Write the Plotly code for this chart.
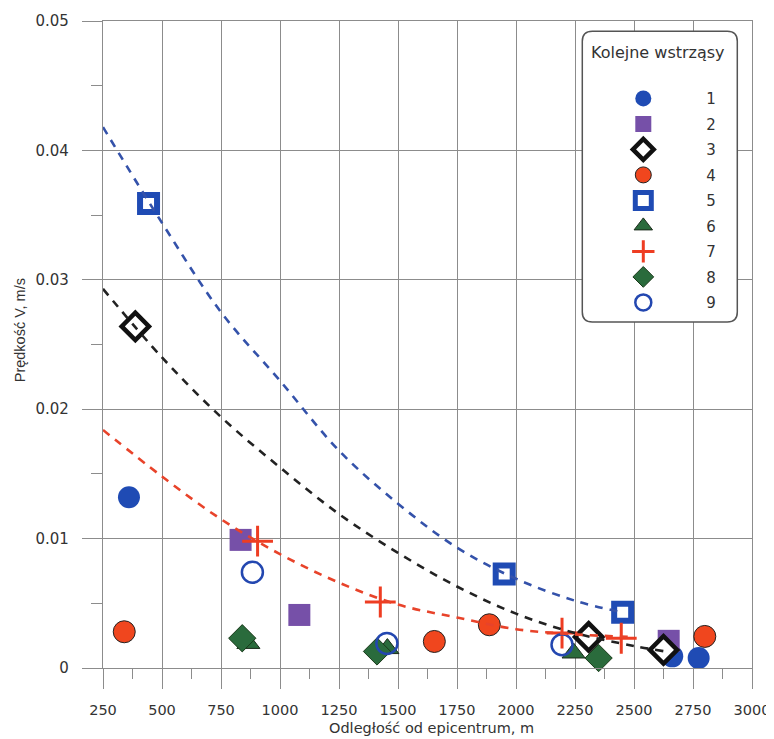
import plotly.graph_objects as go

# ---- data ----
s1_x = [360, 2662, 2774]
s1_y = [0.0132, 0.0009, 0.00077]
s2_x = [833, 1082, 2647]
s2_y = [0.0099, 0.0041, 0.0021]
s3_x = [387, 2308, 2625]
s3_y = [0.0264, 0.0024, 0.0014]
s4_x = [340, 1654, 1887, 2800]
s4_y = [0.0028, 0.00205, 0.00334, 0.00244]
s5_x = [443, 1950, 2452]
s5_y = [0.0359, 0.00726, 0.0043]
s6_x = [866, 1455, 2244]
s6_y = [0.0019, 0.0015, 0.00116]
s7_x = [905, 1425, 2195, 2446]
s7_y = [0.0098, 0.0051, 0.0027, 0.0023]
s8_x = [840, 1411, 2350]
s8_y = [0.0023, 0.00128, 0.00077]
s9_x = [883, 1453, 2195]
s9_y = [0.0074, 0.0019, 0.0018]

fit_blue_x = [250, 500, 750, 1000, 1250, 1500, 1750, 2000, 2250, 2450]
fit_blue_y = [0.0418, 0.0344, 0.0275, 0.0222, 0.0168, 0.0127, 0.0093, 0.0069, 0.0052, 0.0043]
fit_black_x = [250, 500, 750, 1000, 1250, 1500, 1750, 2000, 2250, 2500, 2625]
fit_black_y = [0.0293, 0.0240, 0.0194, 0.0155, 0.0119, 0.0089, 0.0063, 0.0042, 0.0027, 0.0017, 0.0013]
fit_red_x = [250, 500, 750, 1000, 1250, 1500, 1750, 2000, 2250, 2500]
fit_red_y = [0.0184, 0.0148, 0.0115, 0.0088, 0.0066, 0.0049, 0.0039, 0.0030, 0.0026, 0.0024]

labels = ["1", "2", "3", "4", "5", "6", "7", "8", "9"]
x_ticks = [250, 500, 750, 1000, 1250, 1500, 1750, 2000, 2250, 2500, 2750, 3000]
y_ticks = [0, 0.01, 0.02, 0.03, 0.04, 0.05]
y_tick_text = ["0", "0.01", "0.02", "0.03", "0.04", "0.05"]

FONT = "DejaVu Sans"
FONT2 = "Liberation Sans"
GRID = "#8c8c8c"

series = [
    (s1_x, s1_y, dict(symbol="circle", size=22, color="#1f4bb4", line=dict(width=0))),
    (s2_x, s2_y, dict(symbol="square", size=22, color="#7650a8", line=dict(width=0))),
    (s3_x, s3_y, dict(symbol="diamond", size=21, color="white", line=dict(color="#111111", width=4.5))),
    (s4_x, s4_y, dict(symbol="circle", size=22, color="#f0461e", line=dict(color="#222222", width=1))),
    (s5_x, s5_y, dict(symbol="square", size=17, color="white", line=dict(color="#1f4bb4", width=6))),
    (s6_x, s6_y, dict(symbol="triangle-up", size=20, color="#2a6b3c", line=dict(color="#1a2a1a", width=1))),
    (s7_x, s7_y, dict(symbol="cross-thin", size=22, color="#ee3d22", line=dict(color="#ee3d22", width=3))),
    (s8_x, s8_y, dict(symbol="diamond", size=21, color="#2a6b3c", line=dict(color="#1a3a1a", width=1))),
    (s9_x, s9_y, dict(symbol="circle-open", size=21, color="#2347b0", line=dict(color="#2347b0", width=2.5))),
]

fig = go.Figure()
for i, (xs, ys, mk) in enumerate(series):
    fig.add_trace(go.Scatter(x=xs, y=ys, mode="markers", name=labels[i],
                             marker=mk, legendgroup=labels[i], cliponaxis=False))

for fx, fy, col in [(fit_blue_x, fit_blue_y, "#3452aa"),
                    (fit_black_x, fit_black_y, "#222222"),
                    (fit_red_x, fit_red_y, "#e8432a")]:
    fig.add_trace(go.Scatter(x=fx, y=fy, mode="lines", showlegend=False,
                             line=dict(color=col, width=2.6, dash="8px,7px", shape="spline")))

# page body has an 8px margin: work in screen pixels, convert to figure pixels
OFF = 8
W, H = 774 - OFF, 739 - OFF
PL, PR, PT, PB = 102.7, 751.7, 20.8, 668.3   # plot area in screen pixels
L = PL - OFF
T = PT - OFF
pw = PR - PL
ph = PB - PT
R = W - L - pw
B = H - T - ph

def px(xs):
    return (xs - PL) / pw

def py(ys):
    return (PB - ys) / ph

# rounded legend box (screen pixels)
x0, x1, y0, y1 = px(582), px(737), py(322), py(31)
rx, ry = 10 / pw, 10 / ph
path = (f"M {x0+rx},{y1} L {x1-rx},{y1} Q {x1},{y1} {x1},{y1-ry} "
        f"L {x1},{y0+ry} Q {x1},{y0} {x1-rx},{y0} L {x0+rx},{y0} "
        f"Q {x0},{y0} {x0},{y0+ry} L {x0},{y1-ry} Q {x0},{y1} {x0+rx},{y1} Z")

fig.update_layout(
    width=W, height=H,
    margin=dict(l=L, r=R, t=T, b=B, autoexpand=False),
    paper_bgcolor="white", plot_bgcolor="white",
    font=dict(family=FONT, size=15, color="#333333"),
    showlegend=True,
    legend=dict(x=px(580), y=py(82), xanchor="left", yanchor="top",
                bgcolor="rgba(0,0,0,0)", borderwidth=0,
                itemwidth=116, tracegroupgap=3,
                font=dict(family=FONT, size=15, color="#333333")),
    shapes=[dict(type="path", xref="paper", yref="paper", path=path,
                 fillcolor="white", line=dict(color="#555555", width=1.5), layer="above")],
    annotations=[
        dict(text="Kolejne wstrząsy", xref="paper", yref="paper", x=px(658), y=py(52),
             xanchor="center", yanchor="middle",
             showarrow=False, font=dict(family=FONT, size=16, color="#333333")),
        dict(text="Odległość od epicentrum, m", xref="paper", yref="paper", x=px(431), y=py(728),
             xanchor="center", yanchor="middle",
             showarrow=False, font=dict(family=FONT, size=14.5, color="#333333")),
        dict(text="Prędkość V, m/s", xref="paper", yref="paper", x=px(20), y=py(330),
             xanchor="center", yanchor="middle",
             textangle=-90, showarrow=False, font=dict(family=FONT2, size=14.5, color="#333333")),
    ],
)

fig.update_xaxes(range=[250, 3000], tickmode="array", tickvals=x_ticks, automargin=False,
                 showgrid=True, gridcolor=GRID, gridwidth=1.3,
                 showline=True, linecolor=GRID, linewidth=1.3, mirror=True,
                 zeroline=False, ticks="outside", ticklen=20, tickwidth=1.3, tickcolor=GRID,
                 ticklabelstandoff=8,
                 minor=dict(dtick=125, tick0=250, ticks="outside", ticklen=10, tickwidth=1.3,
                            tickcolor=GRID, showgrid=False),
                 tickfont=dict(family=FONT, size=14.5, color="#333333"))
fig.update_yaxes(range=[0, 0.05], tickmode="array", tickvals=y_ticks, ticktext=y_tick_text,
                 automargin=False,
                 showgrid=True, gridcolor=GRID, gridwidth=1.3,
                 showline=True, linecolor=GRID, linewidth=1.3, mirror=True,
                 zeroline=False, ticks="outside", ticklen=20, tickwidth=1.3, tickcolor=GRID,
                 ticklabelstandoff=10,
                 minor=dict(dtick=0.005, tick0=0, ticks="outside", ticklen=11, tickwidth=1.3,
                            tickcolor=GRID, showgrid=False),
                 tickfont=dict(family=FONT, size=15, color="#333333"))

fig.write_html("out.html")
